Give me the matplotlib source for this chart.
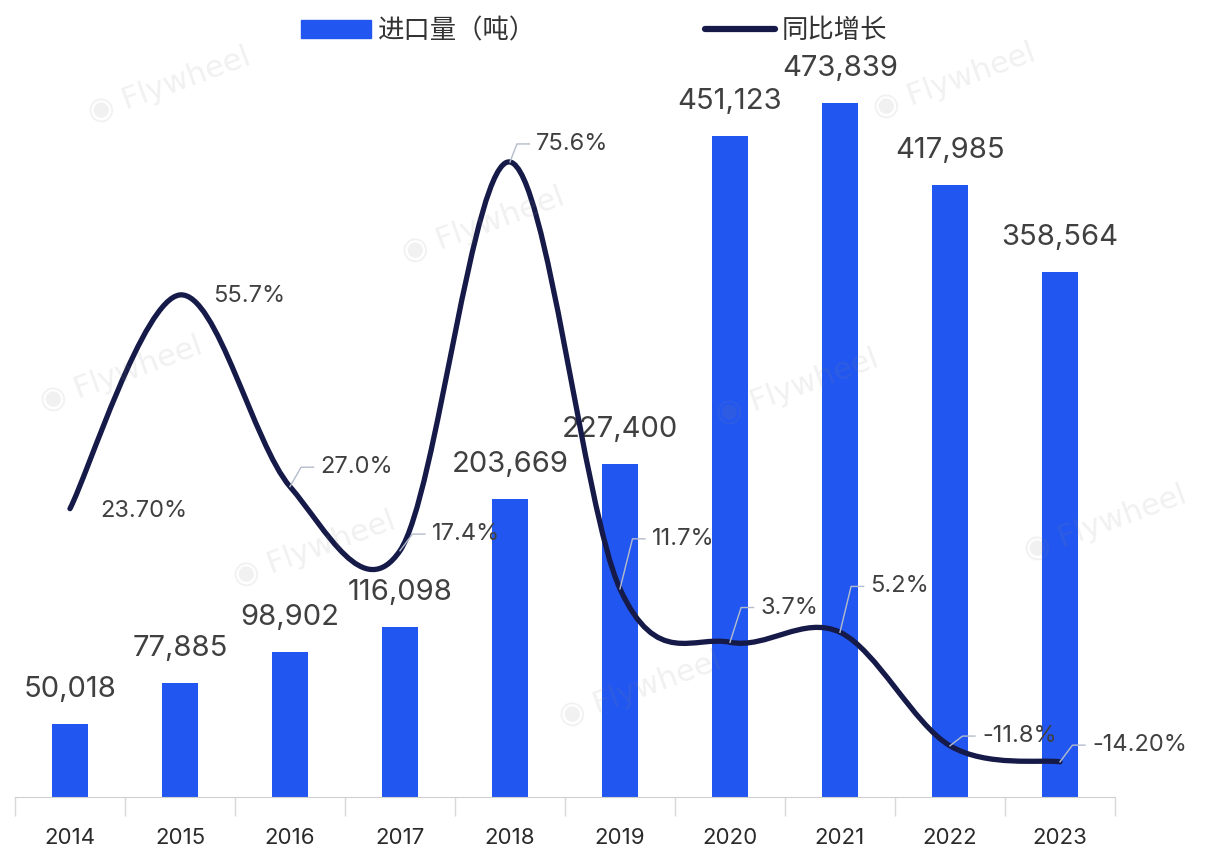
import numpy as np
import matplotlib
matplotlib.use("Agg")
import matplotlib.pyplot as plt
import matplotlib.transforms as mtransforms
from matplotlib.path import Path
from matplotlib.patches import PathPatch, Rectangle
from matplotlib.lines import Line2D

plt.rcParams['font.family'] = ['Inter', 'Noto Sans CJK SC', 'DejaVu Sans']

years = ['2014', '2015', '2016', '2017', '2018', '2019', '2020', '2021', '2022', '2023']
imports = [50018, 77885, 98902, 116098, 203669, 227400, 451123, 473839, 417985, 358564]
growth = [23.7, 55.7, 27.0, 17.4, 75.6, 11.7, 3.7, 5.2, -11.8, -14.2]
growth_labels = ['23.70%', '55.7%', '27.0%', '17.4%', '75.6%', '11.7%', '3.7%', '5.2%', '-11.8%', '-14.20%']

bar_color = '#2157f0'
line_color = '#161a48'
text_color = '#404040'

fig = plt.figure(figsize=(12.08, 8.51), dpi=100)
ax = fig.add_axes([0.0124, 0.0635, 0.9106, 0.866])
ax2 = ax.twinx()

x = np.arange(len(years))
ax.bar(x, imports, width=0.33, color=bar_color, zorder=2)
ax.set_xlim(-0.5, len(years) - 0.5)
ax.set_ylim(0, 503200)
ax2.set_ylim(-19.46, 90.87)

for xi, v in zip(x, imports):
    ax.annotate(f'{v:,}', (xi, v), xytext=(0, 15), textcoords='offset points',
                ha='center', va='bottom', fontsize=21, color=text_color)

# smooth growth curve: Catmull-Rom segments as cubic Bezier
pts = np.column_stack([x, growth]).astype(float)
verts = [pts[0]]
codes = [Path.MOVETO]
n = len(pts)
for i in range(n - 1):
    p0 = pts[i - 1] if i > 0 else pts[i]
    p1 = pts[i]
    p2 = pts[i + 1]
    p3 = pts[i + 2] if i + 2 < n else pts[i + 1]
    c1 = p1 + (p2 - p0) / 6.0
    c2 = p2 - (p3 - p1) / 6.0
    verts += [c1, c2, p2]
    codes += [Path.CURVE4] * 3
ax2.add_patch(PathPatch(Path(verts, codes), facecolor='none', edgecolor=line_color,
                        lw=3.8, capstyle='round', zorder=3))

# percentage labels; leader offsets in points (dx, dy) where leaders exist
offsets = [None, None, (8, 14), (9, 12), (5, 13), (9, 36), (8, 25), (8, 33), (9, 7), (9, 12)]
pt_scale = mtransforms.Affine2D().scale(1 / 72.0) + fig.dpi_scale_trans
for xi, g, lab, off in zip(x, growth, growth_labels, offsets):
    if off is None:
        dx, dy = (22, -2) if xi == 0 else (24, -1)
    else:
        dx, dy = off
        tr = pt_scale + mtransforms.ScaledTranslation(xi, g, ax2.transData)
        ax2.add_line(Line2D([0, dx, dx + 9], [0, dy, dy], color='#b4bccb', lw=1.0,
                            transform=tr, zorder=4))
        dx += 14
    ax2.annotate(lab, (xi, g), xytext=(dx, dy), textcoords='offset points',
                 ha='left', va='center', fontsize=17, color=text_color, zorder=5)

for a in (ax, ax2):
    for s in ('left', 'right', 'top'):
        a.spines[s].set_visible(False)
    a.set_yticks([])
ax2.spines['bottom'].set_visible(False)
ax.spines['bottom'].set_color('#d0d0d0')
ax.set_xticks(np.arange(-0.5, len(years)), labels=[''] * (len(years) + 1))
ax.tick_params(axis='x', which='major', length=14, color='#d8d8d8', width=1)
ax.set_xticks(x, labels=years, minor=True)
ax.tick_params(axis='x', which='minor', length=0, pad=22, labelsize=16, labelcolor='#2a2a2a')

# legend
fig.legend(handles=[Rectangle((0, 0), 1, 1, color=bar_color),
                    Line2D([0], [0], color=line_color, lw=4.5, solid_capstyle='round')],
           labels=['进口量（吨）', '同比增长'], loc='center', bbox_to_anchor=(0.492, 0.963),
           ncol=2, frameon=False, fontsize=19, handlelength=2.65, handleheight=0.7,
           handletextpad=0.25, columnspacing=6.4, labelcolor='#333333')

# faint watermarks
marks = [(0.14, 0.9), (0.79, 0.905), (0.4, 0.735), (0.66, 0.545), (0.26, 0.355),
         (0.915, 0.385), (0.53, 0.19), (0.1, 0.56)]
for mx, my in marks:
    fig.text(mx, my, '◉ Flywheel', fontsize=22, color='#888888', alpha=0.12, rotation=20,
             ha='center', va='center', family='DejaVu Sans', zorder=0)

fig.savefig('out.png', dpi=100)
